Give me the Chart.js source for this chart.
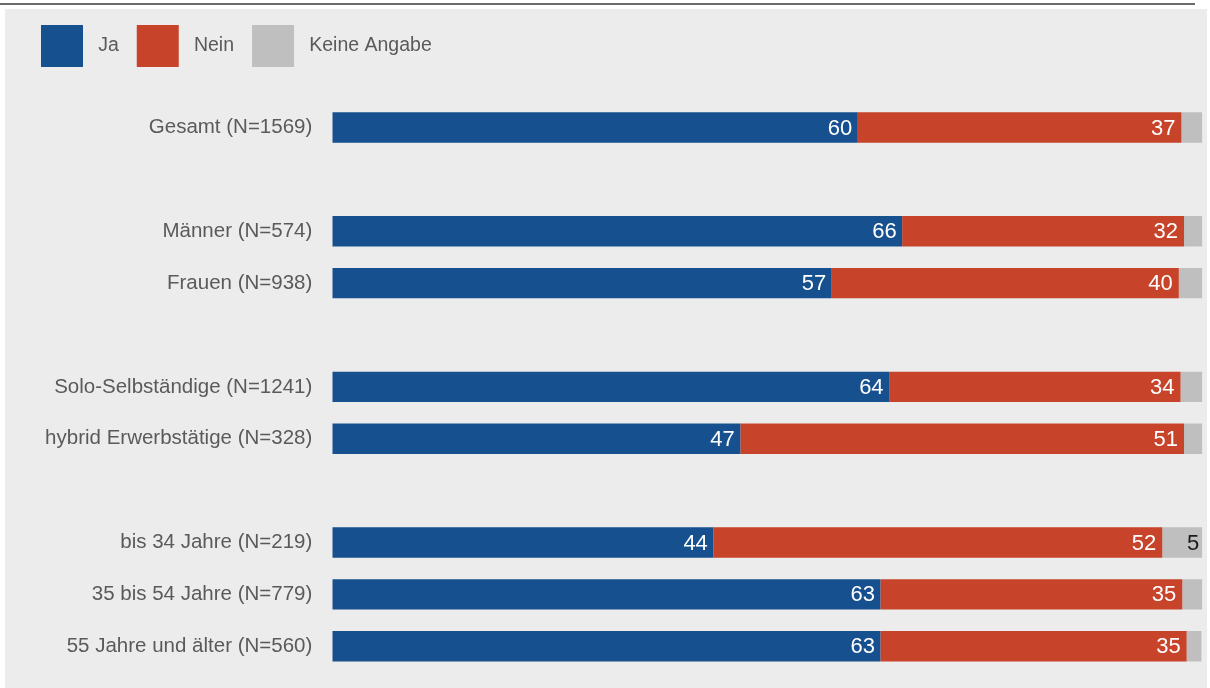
<!DOCTYPE html>
<html>
<head>
<meta charset="utf-8">
<script src="https://cdn.jsdelivr.net/npm/chart.js@4"></script>
<style>
  body { margin: 0; background: #ffffff; }
  #topline { position: absolute; left: 0; top: 3px; width: 1195px; height: 2px; background: #6b6b6b; }
  #panel { position: absolute; left: 5px; top: 9px; width: 1202px; height: 679px; background: #ececec; }
</style>
</head>
<body>
<div id="topline"></div>
<div id="panel"><canvas id="chart"></canvas></div>
<script>
const categories = [
  'Gesamt (N=1569)', '',
  'Männer (N=574)', 'Frauen (N=938)', '',
  'Solo-Selbständige (N=1241)', 'hybrid Erwerbstätige (N=328)', '',
  'bis 34 Jahre (N=219)', '35 bis 54 Jahre (N=779)', '55 Jahre und älter (N=560)'
];
const ja    = [60.4, null, 65.5, 57.4, null, 64.0, 46.9, null, 43.8, 63.0, 63.0];
const nein  = [37.2, null, 32.4, 39.9, null, 33.5, 51.0, null, 51.6, 34.7, 35.2];
const keine = [2.4, null, 2.1, 2.7, null, 2.5, 2.1, null, 4.6, 2.3, 1.7];

const fontFamily = '"Liberation Sans", Arial, sans-serif';

// values inside the bars, rounded like in the source
const barLabels = {
  id: 'barLabels',
  afterDatasetsDraw(chart) {
    const ctx = chart.ctx;
    ctx.save();
    ctx.font = '22px ' + fontFamily;
    ctx.textAlign = 'right';
    ctx.textBaseline = 'middle';
    chart.data.datasets.forEach((ds, i) => {
      chart.getDatasetMeta(i).data.forEach((bar, j) => {
        const v = ds.data[j];
        if (v == null || v < 4) return;
        ctx.fillStyle = ds.labelColor;
        ctx.fillText(Math.round(v), bar.x - ds.labelInset, bar.y + 1);
      });
    });
    ctx.restore();
  }
};

new Chart(document.getElementById('chart'), {
  type: 'bar',
  data: {
    labels: categories,
    datasets: [
      { label: ' Ja', data: ja, backgroundColor: '#17508e', labelColor: '#ffffff', labelInset: 5.5 },
      { label: ' Nein', data: nein, backgroundColor: '#c7432a', labelColor: '#ffffff', labelInset: 6 },
      { label: ' Keine Angabe', data: keine, backgroundColor: '#bfbfbf', labelColor: '#1a1a1a', labelInset: 3 }
    ]
  },
  options: {
    indexAxis: 'y',
    responsive: true,
    maintainAspectRatio: false,
    animation: false,
    borderWidth: 0,
    barPercentage: 0.586,
    categoryPercentage: 1,
    layout: { padding: { left: 18, top: -2, right: 4.7, bottom: 15.8 } },
    plugins: {
      tooltip: { enabled: false },
      legend: {
        position: 'top',
        align: 'start',
        labels: {
          boxWidth: 42,
          boxHeight: 42,
          padding: 18,
          color: '#5a5a5a',
          font: { family: fontFamily, size: 19.5 }
        }
      }
    },
    scales: {
      x: {
        stacked: true,
        position: 'top',
        min: 0,
        max: 100,
        grid: { display: false, drawTicks: false },
        border: { display: false },
        ticks: { display: false },
        afterFit: s => { s.height = 24.6; }
      },
      y: {
        stacked: true,
        grid: { display: false, drawTicks: false },
        border: { display: false },
        ticks: {
          color: '#5a5a5a',
          padding: 20,
          autoSkip: false,
          font: { family: fontFamily, size: 20.5 }
        },
        afterFit: s => {
          s.width = 309.3;
          s.paddingTop = 0;
          s.paddingBottom = 0;
        }
      }
    }
  },
  plugins: [barLabels]
});
</script>
</body>
</html>
